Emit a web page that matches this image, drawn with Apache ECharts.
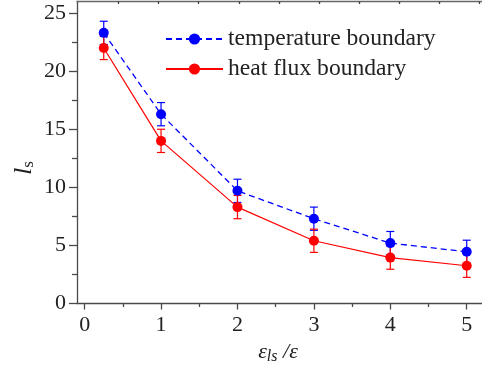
<!DOCTYPE html>
<html>
<head>
<meta charset="utf-8">
<script src="https://cdn.jsdelivr.net/npm/echarts@6/dist/echarts.min.js"></script>
<style>
  html, body { margin: 0; padding: 0; background: #fff; }
  #chart { width: 482px; height: 370px; }
</style>
</head>
<body>
<div id="chart"></div>
<script>
// Ratio eps_ls / eps on the horizontal axis
const ratio = [0.25, 1, 2, 3, 4, 5];
// l_s for each boundary condition
const temperatureBoundary = [23.3, 16.3, 9.7, 7.3, 5.2, 4.45];
const heatFluxBoundary = [22.0, 14.0, 8.3, 5.4, 3.95, 3.25];
// symmetric error half-widths
const temperatureErr = [1.0, 1.0, 1.0, 1.0, 1.0, 1.0];
const heatFluxErr = [1.0, 1.0, 1.0, 1.0, 1.0, 1.0];
// tick values
const xMajorTicks = [0, 1, 2, 3, 4, 5];
const xMinorTicks = [0.5, 1.5, 2.5, 3.5, 4.5];
const yMajorTicks = [0, 5, 10, 15, 20, 25];
const yMinorTicks = [2.5, 7.5, 12.5, 17.5, 22.5];
const topTicks = [1, 2, 3, 4, 5, 6, 7, 8, 9, 10];

const BLUE = '#0000ff';
const RED = '#ff0000';
const AXIS = '#4a4a4a';
const FONT = 'Liberation Serif';

function pairs(xs, ys) { return xs.map((x, i) => [x, ys[i]]); }
function errData(xs, ys, es) { return xs.map((x, i) => [x, ys[i] - es[i], ys[i] + es[i]]); }

function errorBarRenderer(color) {
  return function (params, api) {
    const x = api.value(0);
    const lo = api.coord([x, api.value(1)]);
    const hi = api.coord([x, api.value(2)]);
    const half = 4;
    const style = { stroke: color, lineWidth: 1.2, fill: null };
    return {
      type: 'group',
      children: [
        { type: 'line', shape: { x1: lo[0], y1: lo[1], x2: hi[0], y2: hi[1] }, style },
        { type: 'line', shape: { x1: lo[0] - half, y1: lo[1], x2: lo[0] + half, y2: lo[1] }, style },
        { type: 'line', shape: { x1: hi[0] - half, y1: hi[1], x2: hi[0] + half, y2: hi[1] }, style }
      ]
    };
  };
}

const chart = echarts.init(document.getElementById('chart'), null, { renderer: 'canvas' });

const xRange = { min: -0.1, max: 5.2 };
const yRange = { min: 0, max: 26 };

chart.setOption({
  animation: false,
  backgroundColor: '#fff',
  textStyle: { fontFamily: FONT, color: '#222' },
  grid: { left: 77, top: 1.5, right: -6.6, bottom: 66.5, containLabel: false },
  legend: {
    orient: 'vertical',
    left: 160,
    top: 22,
    itemWidth: 57,
    itemHeight: 14,
    itemGap: 6,
    textStyle: { fontFamily: FONT, fontSize: 23.6, color: '#222' },
    data: ['temperature boundary', 'heat flux boundary']
  },
  xAxis: [
    {
      type: 'value', position: 'bottom', ...xRange,
      axisLine: { show: true, onZero: false, lineStyle: { color: AXIS, width: 1.3 } },
      axisTick: { show: true, length: 6, customValues: xMajorTicks, lineStyle: { color: AXIS, width: 1.3 } },
      axisLabel: { customValues: xMajorTicks, fontSize: 22, margin: 11, color: '#222', fontFamily: FONT },
      splitLine: { show: false }
    },
    {
      type: 'value', position: 'bottom', ...xRange,
      axisLine: { show: false, onZero: false },
      axisTick: { show: true, length: 3.5, customValues: xMinorTicks, lineStyle: { color: AXIS, width: 1.3 } },
      axisLabel: { show: false },
      splitLine: { show: false }
    },
    {
      type: 'value', position: 'top', min: -0.03, max: 10.06,
      axisLine: { show: true, onZero: false, lineStyle: { color: '#666', width: 1.3 } },
      axisTick: { show: true, inside: true, length: 2.5, customValues: topTicks, lineStyle: { color: '#444', width: 1.3 } },
      axisLabel: { show: false },
      splitLine: { show: false }
    }
  ],
  yAxis: [
    {
      type: 'value', position: 'left', ...yRange,
      axisLine: { show: true, onZero: false, lineStyle: { color: AXIS, width: 1.3 } },
      axisTick: { show: true, length: 8, customValues: yMajorTicks, lineStyle: { color: AXIS, width: 1.3 } },
      axisLabel: { customValues: yMajorTicks, fontSize: 22, margin: 11, color: '#222', fontFamily: FONT },
      splitLine: { show: false }
    },
    {
      type: 'value', position: 'left', ...yRange,
      axisLine: { show: false, onZero: false },
      axisTick: { show: true, length: 5, customValues: yMinorTicks, lineStyle: { color: AXIS, width: 1.3 } },
      axisLabel: { show: false },
      splitLine: { show: false }
    }
  ],
  series: [
    {
      type: 'custom', name: 'temperature error', xAxisIndex: 0, yAxisIndex: 0, z: 1,
      renderItem: errorBarRenderer(BLUE),
      data: errData(ratio, temperatureBoundary, temperatureErr),
      encode: { x: 0, y: [1, 2] }
    },
    {
      type: 'custom', name: 'heat flux error', xAxisIndex: 0, yAxisIndex: 0, z: 1,
      renderItem: errorBarRenderer(RED),
      data: errData(ratio, heatFluxBoundary, heatFluxErr),
      encode: { x: 0, y: [1, 2] }
    },
    {
      type: 'line', name: 'heat flux boundary', xAxisIndex: 0, yAxisIndex: 0, z: 3,
      data: pairs(ratio, heatFluxBoundary),
      symbol: 'circle', symbolSize: 10,
      itemStyle: { color: RED },
      lineStyle: { color: RED, width: 1.2 }
    },
    {
      type: 'line', name: 'temperature boundary', xAxisIndex: 0, yAxisIndex: 0, z: 4,
      data: pairs(ratio, temperatureBoundary),
      symbol: 'circle', symbolSize: 10,
      itemStyle: { color: BLUE },
      lineStyle: { color: BLUE, width: 1.3, type: [6, 4] }
    }
  ],
  graphic: [
    {
      type: 'text', x: 24, y: 168, rotation: Math.PI / 2, z: 10,
      style: {
        text: '{l|l}{s|s}',
        align: 'center', verticalAlign: 'middle',
        rich: {
          l: { fontFamily: FONT, fontStyle: 'italic', fontSize: 26, fill: '#222' },
          s: { fontFamily: FONT, fontSize: 17, fill: '#222', padding: [10, 0, 0, 0] }
        }
      }
    },
    {
      type: 'text', x: 278, y: 352, z: 10,
      style: {
        text: '{e|ε}{sub|ls}{e| /ε}',
        align: 'center', verticalAlign: 'middle',
        rich: {
          e: { fontFamily: FONT, fontStyle: 'italic', fontSize: 22, fill: '#222' },
          sub: { fontFamily: FONT, fontStyle: 'italic', fontSize: 16, fill: '#222', padding: [10, 0, 0, 0] }
        }
      }
    }
  ]
});
</script>
</body>
</html>
